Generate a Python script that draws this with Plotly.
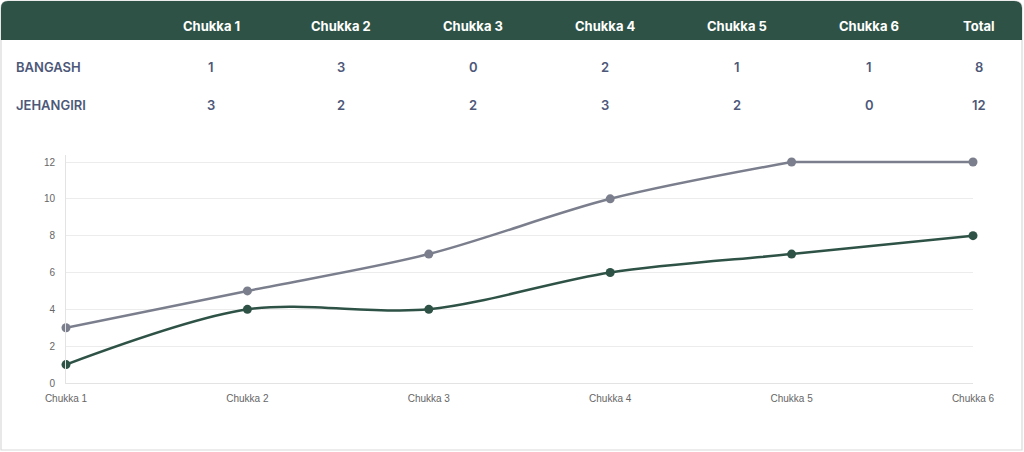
import plotly.graph_objects as go

# Score data per chukka
chukkas = ["Chukka 1", "Chukka 2", "Chukka 3", "Chukka 4", "Chukka 5", "Chukka 6"]
teams = ["BANGASH", "JEHANGIRI"]
bangash_goals = [1, 3, 0, 2, 1, 1]
jehangiri_goals = [3, 2, 2, 3, 2, 0]
# Running totals shown in the line chart
bangash_running = [1, 4, 4, 6, 7, 8]
jehangiri_running = [3, 5, 7, 10, 12, 12]
y_ticks = [0, 2, 4, 6, 8, 10, 12]

W, H = 1024, 452
GREEN = "#2e5346"
GREY = "#7b7f8d"
TEXT = "#4d5879"


def px(x):
    return x / W


def py(y):
    return 1 - y / H


fig = go.Figure()

# the flat last stretch is drawn straight (the original chart caps its curve at the top)
fig.add_trace(go.Scatter(x=chukkas[:5], y=jehangiri_running[:5], name="JEHANGIRI", mode="lines",
                         line=dict(color=GREY, width=2.5, shape="spline", smoothing=0.9),
                         hoverinfo="skip"))
fig.add_trace(go.Scatter(x=chukkas[4:], y=jehangiri_running[4:], name="JEHANGIRI", mode="lines",
                         line=dict(color=GREY, width=2.5), hoverinfo="skip"))
fig.add_trace(go.Scatter(x=chukkas, y=jehangiri_running, name="JEHANGIRI", mode="markers",
                         marker=dict(color=GREY, size=9), cliponaxis=False))
fig.add_trace(go.Scatter(x=chukkas, y=bangash_running, name="BANGASH", mode="lines+markers",
                         line=dict(color=GREEN, width=2.5, shape="spline", smoothing=0.9),
                         marker=dict(color=GREEN, size=9), cliponaxis=False))

# Card outline and header band
fig.add_shape(type="path", xref="paper", yref="paper",
              path=f"M {px(1)},{py(8)} Q {px(1)},{py(1)} {px(8)},{py(1)} L {px(1014)},{py(1)} "
                   f"Q {px(1022)},{py(1)} {px(1022)},{py(8)} L {px(1022)},{py(450)} L {px(1)},{py(450)} Z",
              line=dict(color="#d9d9d9", width=1.2), fillcolor="white", layer="below")
fig.add_shape(type="path", xref="paper", yref="paper",
              path=f"M {px(1)},{py(8)} Q {px(1)},{py(1)} {px(8)},{py(1)} L {px(1014)},{py(1)} "
                   f"Q {px(1022)},{py(1)} {px(1022)},{py(8)} L {px(1022)},{py(40)} L {px(1)},{py(40)} Z",
              line=dict(width=0), fillcolor=GREEN, layer="below")

# Table text
col_x = [211, 341, 473, 605, 737, 869, 979]
headers = chukkas + ["Total"]
for cx, label in zip(col_x, headers):
    fig.add_annotation(x=px(cx), y=py(26), xref="paper", yref="paper", text=label,
                       showarrow=False, xanchor="center", yanchor="middle",
                       font=dict(family="Inter", size=13, color="white", weight=700))

rows = [bangash_goals, jehangiri_goals]
row_y = [67, 105]
for team, goals, ry in zip(teams, rows, row_y):
    fig.add_annotation(x=px(14), y=py(ry), xref="paper", yref="paper", text=team,
                       showarrow=False, xanchor="left", yanchor="middle",
                       font=dict(family="Inter", size=13, color=TEXT, weight=600))
    values = goals + [sum(goals)]
    for cx, v in zip(col_x, values):
        fig.add_annotation(x=px(cx), y=py(ry), xref="paper", yref="paper", text=str(v),
                           showarrow=False, xanchor="center", yanchor="middle",
                           font=dict(family="Inter", size=13, color=TEXT, weight=600))

# y range runs a bit past 12 so the top line is not clipped
y_top = 12.4
top_px = 383 - (383 - 162) * y_top / 12

fig.update_layout(
    width=W, height=H,
    margin=dict(l=0, r=0, t=0, b=0),
    paper_bgcolor="white", plot_bgcolor="white",
    showlegend=False,
    xaxis=dict(domain=[px(66), px(973)], range=[0, 5], showgrid=False, zeroline=False,
               showline=True, linecolor="#e3e3e3", linewidth=1, ticks="", automargin=False,
               tickfont=dict(family="Liberation Sans", size=10, color="#666"), ticklabelstandoff=6),
    yaxis=dict(domain=[py(383), py(top_px)], range=[0, y_top], tickvals=y_ticks,
               showgrid=True, gridcolor="#ececec", gridwidth=1, zeroline=False,
               showline=True, linecolor="#e3e3e3", linewidth=1, ticks="", automargin=False,
               tickfont=dict(family="Liberation Sans", size=10, color="#666"), ticklabelstandoff=8),
)

# drop the default page margin so the card sits at the window edge
fig.write_html("out.html", config={"displayModeBar": False},
               post_script="document.body.style.margin='0';")
